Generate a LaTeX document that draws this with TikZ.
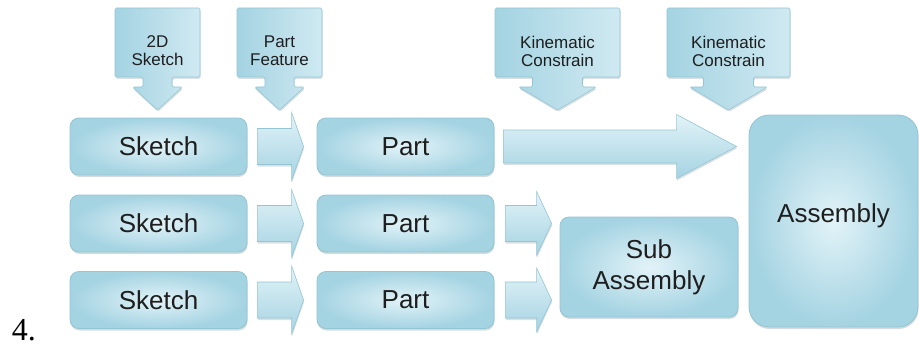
\documentclass[tikz,border=0pt]{standalone}
\usepackage{fontspec}
\setmainfont{Liberation Sans}
\newfontfamily\numserif{Liberation Serif}
\usetikzlibrary{calc,shadows,backgrounds}
\definecolor{boxin}{HTML}{E2F3F8}
\definecolor{boxout}{HTML}{A4D3E2}
\definecolor{boxline}{HTML}{93C5D4}
\definecolor{txt}{HTML}{1E1E1E}
\tikzset{
  bigbox/.style={rounded corners=9pt, draw=boxline, line width=0.8pt,
    inner color=boxin, outer color=boxout,
    drop shadow={shadow xshift=0.5pt, shadow yshift=-2pt, opacity=0.35, fill=gray!80!cyan},
    text=txt, font=\fontsize{26}{31}\selectfont, align=center, inner sep=0pt},
  toplabel/.style={text=txt, font=\fontsize{17}{18}\selectfont, align=center, inner sep=0pt},
  frame/.style={inner sep=0pt, outer sep=0pt},
  calloutfill/.style={rounded corners=1.5pt, draw=boxline, line width=0.6pt,
    left color=boxout, right color=boxin!70!boxout,
    drop shadow={shadow xshift=0.5pt, shadow yshift=-2pt, opacity=0.3, fill=gray!80!cyan}},
  arrowfill/.style={draw=boxline, line width=0.6pt,
    top color=boxin, bottom color=boxout,
    drop shadow={shadow xshift=0.5pt, shadow yshift=-2pt, opacity=0.3, fill=gray!80!cyan}}
}
% #1 from node, #2 to node, #3 start gap, #4 tip gap, #5 body half, #6 head half, #7 head length
\newcommand\blockarr[7]{%
  \path[arrowfill] let \p1=(#1.east), \p2=(#2.west) in
   (\x1+#3,\y1+#5) -- (\x2-#4-#7,\y1+#5) -- (\x2-#4-#7,\y1+#6) -- (\x2-#4,\y1)
   -- (\x2-#4-#7,\y1-#6) -- (\x2-#4-#7,\y1-#5) -- (\x1+#3,\y1-#5) -- cycle;}
% #1 frame node, #2 stem half, #3 head half, #4 stem length, #5 head length
\newcommand\calloutshape[5]{%
  \path[calloutfill] let \p1=(#1.south west), \p2=(#1.north east), \p3=(#1.south) in
   (\x1,\y1) -- (\x1,\y2) -- (\x2,\y2) -- (\x2,\y1) -- (\x3+#2,\y1) -- (\x3+#2,\y1-#4)
   -- (\x3+#3,\y1-#4) -- (\x3,\y1-#4-#5) -- (\x3-#3,\y1-#4) -- (\x3-#2,\y1-#4)
   -- (\x3-#2,\y1) -- cycle;}
\begin{document}
\begin{tikzpicture}[x=1pt,y=-1pt]
\useasboundingbox (0,0) rectangle (919,353);

% main boxes
\node[bigbox, minimum width=177pt, minimum height=57pt] (s1) at (158.5,146.5) {Sketch};
\node[bigbox, minimum width=177pt, minimum height=57pt] (s2) at (158.5,223.5) {Sketch};
\node[bigbox, minimum width=177pt, minimum height=57pt] (s3) at (158.5,300) {Sketch};
\node[bigbox, minimum width=177pt, minimum height=57pt] (p1) at (405.5,146.5) {Part};
\node[bigbox, minimum width=177pt, minimum height=57pt] (p2) at (405.5,223.5) {Part};
\node[bigbox, minimum width=177pt, minimum height=57pt] (p3) at (405.5,300) {Part};
\node[bigbox, minimum width=178pt, minimum height=100pt] (sub) at (649,267) {Sub\\Assembly};
\node[bigbox, rounded corners=20pt, minimum width=169pt, minimum height=212pt] (asm) at (833.5,221) {};
\node[text=txt, font=\fontsize{26}{31}\selectfont, inner sep=0pt] (asmt) at (833.5,216) {Assembly};

% top callout frames
\node[frame, minimum width=85pt, minimum height=69pt] (c1) at (157.5,42.5) {};
\node[frame, minimum width=85pt, minimum height=69pt] (c2) at (279.5,42.5) {};
\node[frame, minimum width=125pt, minimum height=69pt] (c3) at (557.5,42.5) {};
\node[frame, minimum width=123pt, minimum height=69pt] (c4) at (728.5,42.5) {};

\begin{scope}[on background layer]
  \calloutshape{c1}{14.5pt}{25pt}{10pt}{23pt}
  \calloutshape{c2}{14.5pt}{25pt}{10pt}{23pt}
  \calloutshape{c3}{25pt}{39pt}{10pt}{23pt}
  \calloutshape{c4}{25pt}{39pt}{10pt}{23pt}
  \blockarr{s1}{p1}{10pt}{13pt}{18pt}{34pt}{12pt}
  \blockarr{s2}{p2}{10pt}{13pt}{18pt}{34pt}{12pt}
  \blockarr{s3}{p3}{10pt}{13pt}{18pt}{34pt}{12pt}
  \blockarr{p1}{asm}{9pt}{12pt}{16.5pt}{32pt}{60pt}
  \blockarr{p2}{sub}{11pt}{8pt}{18pt}{32pt}{15pt}
  \blockarr{p3}{sub}{11pt}{8pt}{18pt}{32pt}{15pt}
\end{scope}

\node[toplabel] (t1) at (157.5,51) {2D\\Sketch};
\node[toplabel] (t2) at (279.5,51) {Part\\Feature};
\node[toplabel] (t3) at (557.5,51) {Kinematic\\Constrain};
\node[toplabel] (t4) at (728.5,51) {Kinematic\\Constrain};

\node[inner sep=0pt, font=\numserif\fontsize{32}{36}\selectfont, text=black] (num) at (24,330) {4.};
\end{tikzpicture}
\end{document}
